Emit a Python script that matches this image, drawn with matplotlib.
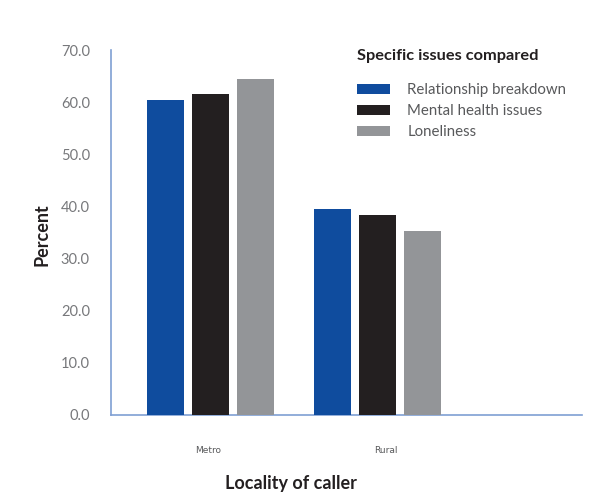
import matplotlib
matplotlib.use("Agg")
import matplotlib.pyplot as plt
import numpy as np

categories = ["Metro", "Rural"]
series_names = ["Relationship breakdown", "Mental health issues", "Loneliness"]
relationship = [60.4, 39.5]
mental_health = [61.6, 38.4]
loneliness = [64.4, 35.3]
yticks = [0, 10, 20, 30, 40, 50, 60, 70]

colors = ["#0f4c9e", "#231f20", "#939598"]
W, H = 591, 496
fig = plt.figure(figsize=(W / 100, H / 100), dpi=100)
plt.rcParams['font.family'] = ['Lato', 'DejaVu Sans']

left, right, top, bottom = 110.7, 582, 50, 415
ax = fig.add_axes([left / W, 1 - bottom / H, (right - left) / W, (bottom - top) / H])

x = np.arange(len(categories))
bw = 0.222
off = 0.27
for i, (vals, name) in enumerate(zip([relationship, mental_health, loneliness], series_names)):
    ax.bar(x + (i - 1) * off, vals, width=bw, color=colors[i], label=name, zorder=3)

ax.set_xlim(-0.6, 2.23)
ax.set_ylim(0, 70)
ax.set_yticks(yticks)
ax.set_yticklabels([f"{v:.1f}" for v in yticks], color="#77787b", fontsize=10.5)
ax.tick_params(axis="y", length=0, pad=15)
ax.set_xticks([-0.013, 1.054])
ax.set_xticklabels(categories, fontsize=6.5, color="#58595b", family=["Liberation Sans Narrow", "DejaVu Sans"])
ax.tick_params(axis="x", length=0, pad=22.5)

for s in ["top", "right"]:
    ax.spines[s].set_visible(False)
for s in ["left", "bottom"]:
    ax.spines[s].set_color("#7f9fd3")
    ax.spines[s].set_linewidth(1.2)

fig.text(42 / W, 1 - 235 / H, "Percent", rotation=90, ha="center", va="center",
         fontsize=13, fontweight="bold", color="#231f20")
fig.text(291 / W, 1 - 483 / H, "Locality of caller", ha="center", va="center",
         fontsize=13, fontweight="bold", color="#231f20")

fig.text(357 / W, 1 - 56 / H, "Specific issues compared", ha="left", va="center",
         fontsize=11.8, fontweight="bold", color="#231f20")

leg = ax.legend(loc="upper left", bbox_to_anchor=(357 / W, 1 - 83 / H), bbox_transform=fig.transFigure,
                frameon=False, fontsize=10.8, borderpad=0, borderaxespad=0,
                handlelength=2.2, handleheight=0.65, handletextpad=1.15, labelspacing=0.46)
for t in leg.get_texts():
    t.set_color("#58595b")

fig.savefig("out.png", dpi=100)
